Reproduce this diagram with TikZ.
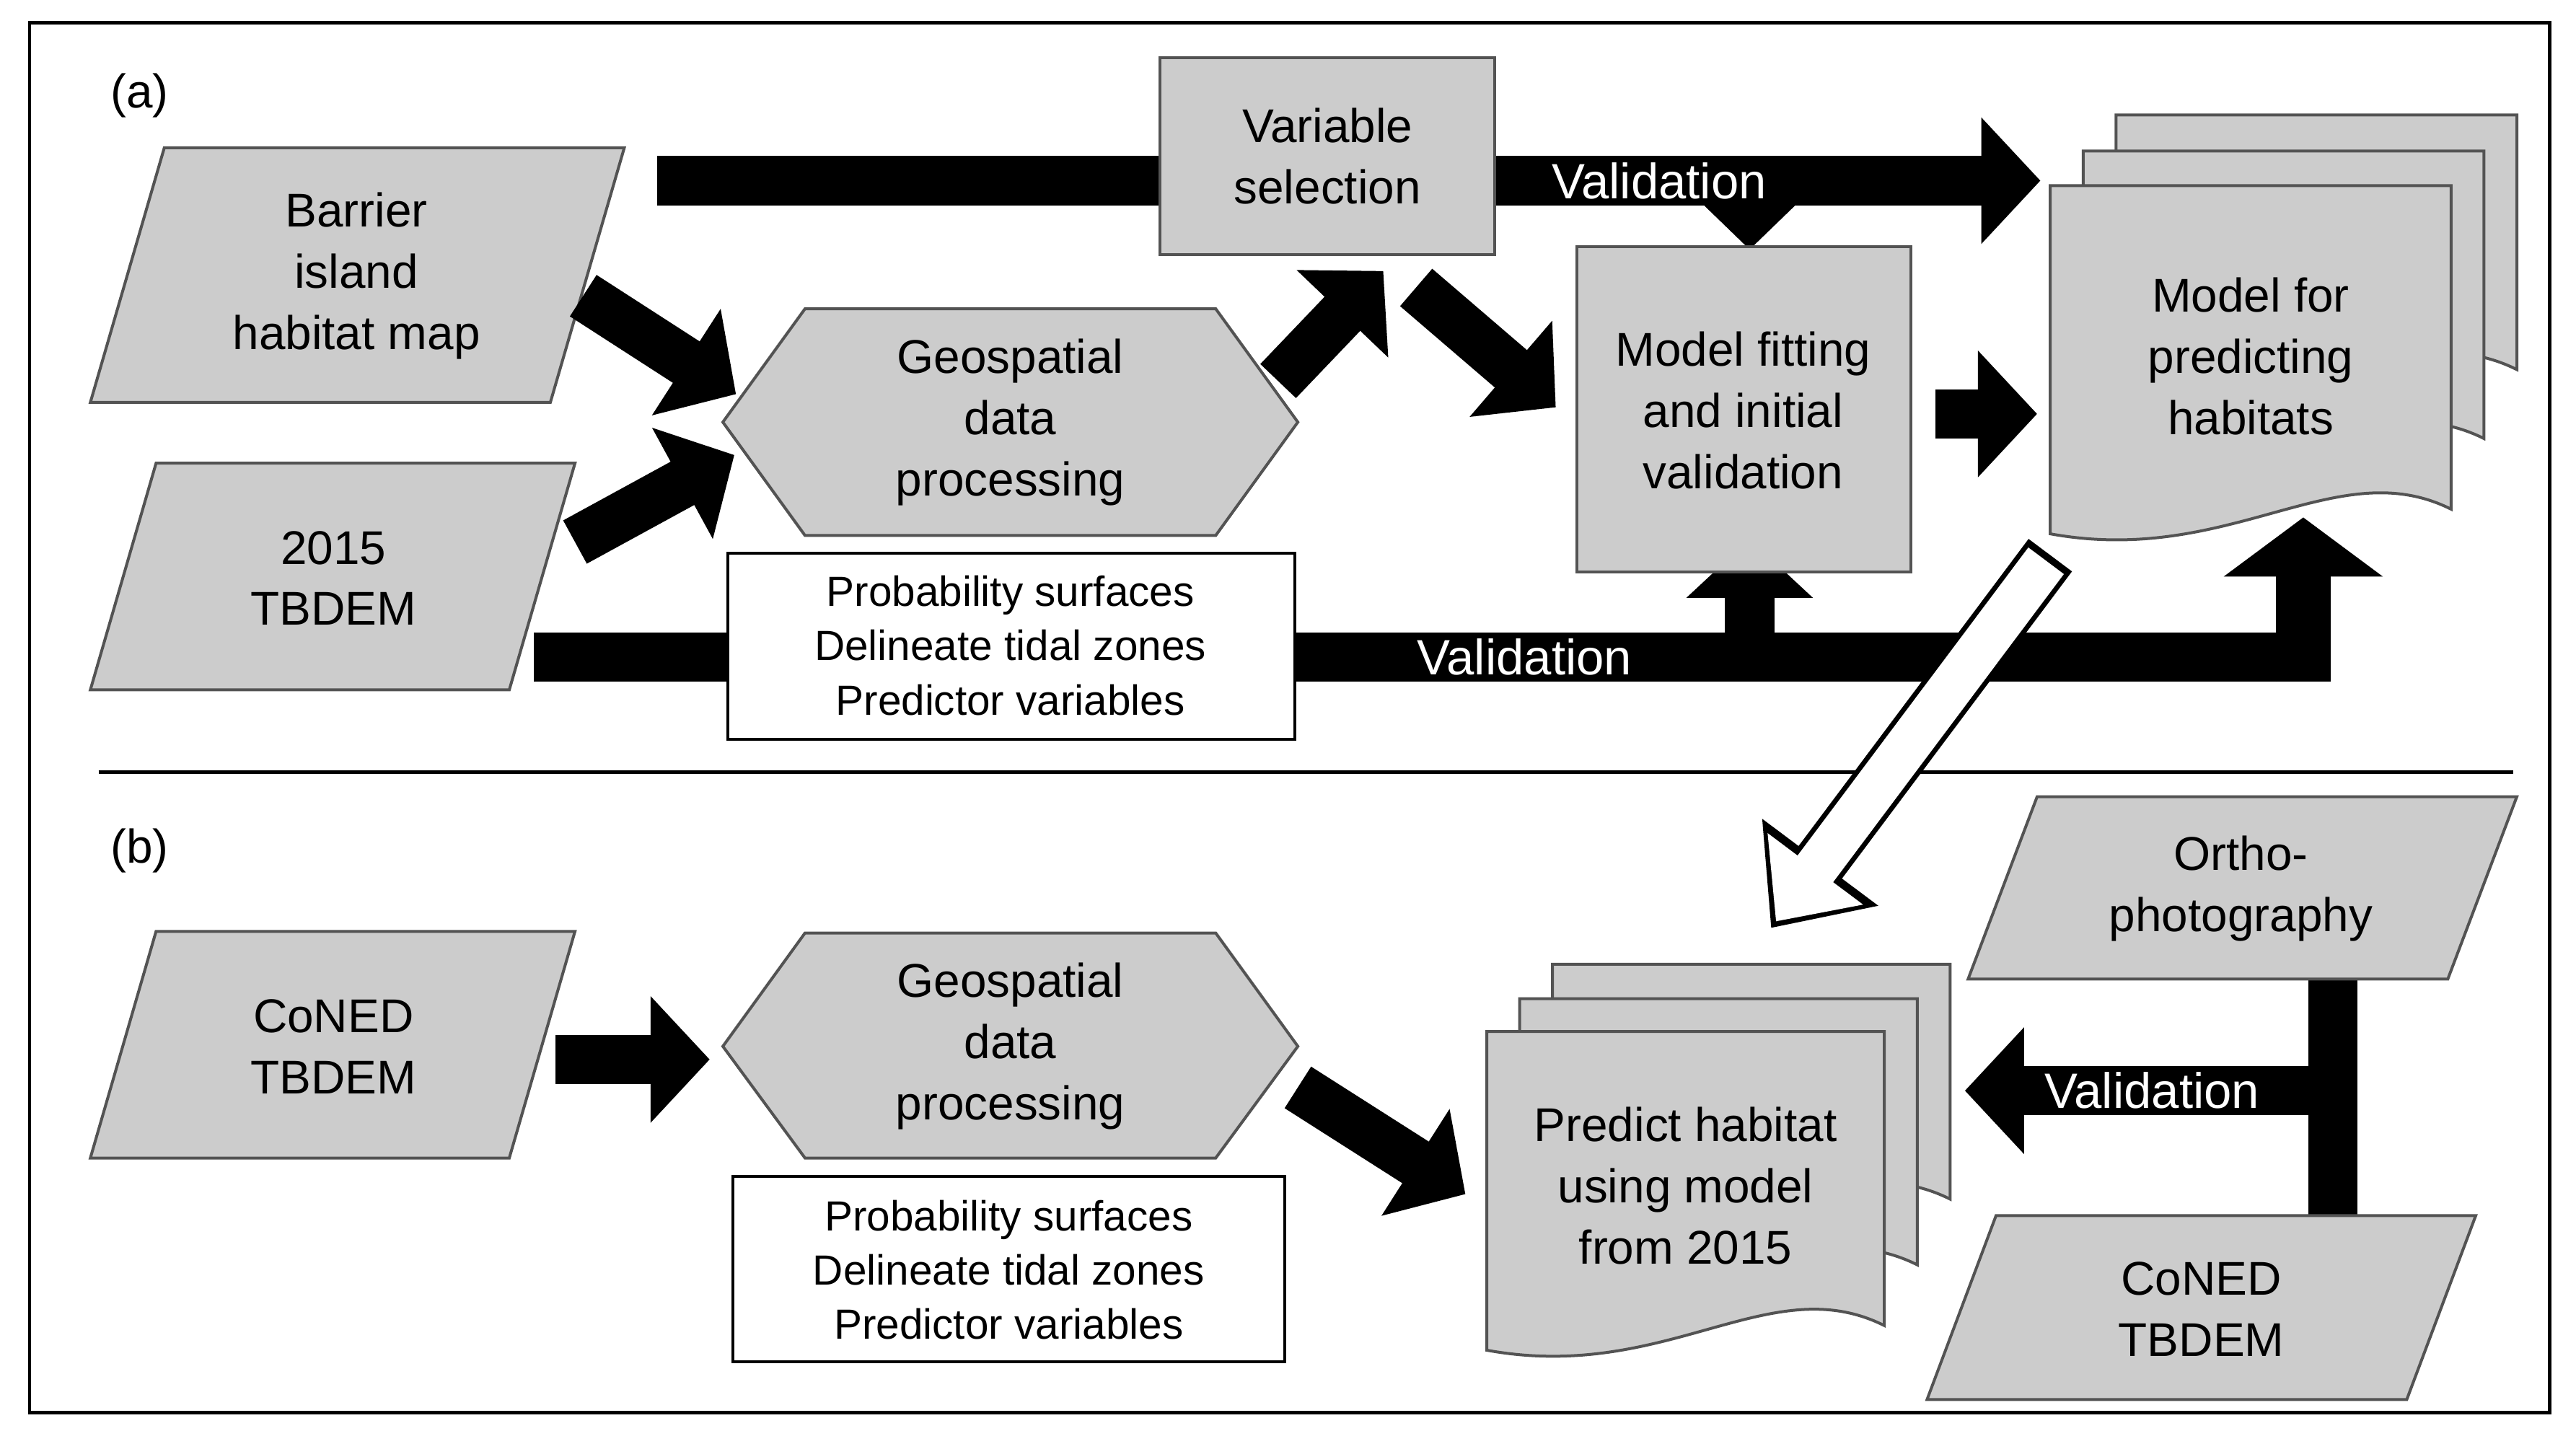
\documentclass[tikz,border=0pt]{standalone}
\usepackage{fontspec}
\setmainfont{Liberation Sans}
\usetikzlibrary{arrows.meta,calc}
\tikzset{
 sh/.style={fill=gray!40,draw=gray!65!black,line width=0.5pt},
 lbl/.style={align=center,font=\fontsize{8.2}{10.6}\selectfont},
 sm/.style={align=center,font=\fontsize{7.3}{9.4}\selectfont},
 blk/.style={line width=0.3cm,black,-{Triangle[length=0.36cm,width=0.75cm]}},
 vt/.style={text=white,font=\fontsize{8.6}{10}\selectfont},
}
\newcommand\docpg[4]{\path[sh] (#1,#2) -- (#3,#2) -- (#3,#4-15) .. controls (#3-70,#4-50) and (#1+110,#4+20) .. (#1,#4) -- cycle;}
\newcommand\para[6]{\path[sh] (#1,#5) -- (#2,#5) -- (#4,#6) -- (#3,#6) -- cycle;}
\begin{document}
\begin{tikzpicture}[x=0.01cm,y=-0.01cm]
\useasboundingbox (0,0) rectangle (1568,871);
\draw[line width=0.6pt] (18,14) rectangle (1552,860);
\draw[line width=0.6pt] (60,470) -- (1530,470);
\node[lbl] (la) at (85,58) {(a)};
\node[lbl] (lb) at (85,518) {(b)};
% (a) arrows behind
\coordinate (t1) at (400,110); \coordinate (t2) at (1242,110);
\draw[blk] (t1) -- (t2);
\coordinate (v1) at (325,400); \coordinate (v2) at (1402,400);
\draw[line width=0.3cm] (v1) -- (v2);
\coordinate (u1) at (1065,392); \coordinate (u2) at (1065,328);
\draw[blk] (u1) -- (u2);
\coordinate (w1) at (1402,415); \coordinate (w2) at (1402,315);
\draw[line width=0.33cm,-{Triangle[length=0.36cm,width=0.95cm]}] (w1) -- (w2);
% shapes
\para{100}{380}{55}{335}{90}{245}
\node[lbl] (bar) at (217,168) {Barrier\\island\\habitat map};
\para{95}{350}{55}{310}{282}{420}
\node[lbl] (tb) at (203,352) {2015\\TBDEM};
\path[sh] (440,257) -- (490,188) -- (740,188) -- (790,257) -- (740,326) -- (490,326) -- cycle;
\node[lbl] (geo) at (615,257) {Geospatial\\data\\processing};
\path[fill=white,draw=black,line width=0.5pt] (443,337) rectangle (788,450);
\node[sm] (box) at (615,393) {Probability surfaces\\Delineate tidal zones\\Predictor variables};
\path[sh] (706,35) rectangle (910,155);
\node[lbl] (vs) at (808,95) {Variable\\selection};
\node[vt] (val1) at (1010,110) {Validation};
\coordinate (d1) at (1065,122); \coordinate (d2) at (1065,152);
\draw[line width=0.3cm,-{Triangle[length=0.3cm,width=0.6cm]}] (d1) -- (d2);
\path[sh] (960,150) rectangle (1163,348);
\node[lbl] (mf) at (1061,250) {Model fitting\\and initial\\validation};
\node[vt] (val2) at (928,400) {Validation};
\docpg{1288}{70}{1532}{240}
\docpg{1268}{92}{1512}{282}
\docpg{1248}{113}{1492}{325}
\node[lbl] (mp) at (1370,217) {Model for\\predicting\\habitats};
\coordinate (a1) at (355,180); \coordinate (a2) at (448,240);
\draw[blk] (a1) -- (a2);
\coordinate (b1) at (350,330); \coordinate (b2) at (447,277);
\draw[blk] (b1) -- (b2);
\coordinate (c1) at (778,232); \coordinate (c2) at (842,165);
\draw[blk] (c1) -- (c2);
\coordinate (e1) at (862,175); \coordinate (e2) at (947,248);
\draw[blk] (e1) -- (e2);
\coordinate (f1) at (1178,252); \coordinate (f2) at (1240,252);
\draw[blk] (f1) -- (f2);
% white arrow
\coordinate (g1) at (1248,338); \coordinate (g2) at (1078,565);
\draw[line width=0.33cm,black,-{Triangle[length=0.5cm,width=0.85cm]}] (g1) -- (g2);
\draw[line width=0.27cm,white,shorten >=0.05cm,-{Triangle[length=0.4cm,width=0.7cm]}] ($(g1)!0.015!(g2)$) -- (g2);
% (b)
\para{95}{350}{55}{310}{567}{705}
\node[lbl] (cn) at (203,637) {CoNED\\TBDEM};
\coordinate (h1) at (338,645); \coordinate (h2) at (432,645);
\draw[blk] (h1) -- (h2);
\path[sh] (440,637) -- (490,568) -- (740,568) -- (790,637) -- (740,705) -- (490,705) -- cycle;
\node[lbl] (geo2) at (615,637) {Geospatial\\data\\processing};
\path[fill=white,draw=black,line width=0.5pt] (446,716) rectangle (782,829);
\node[sm] (box2) at (614,773) {Probability surfaces\\Delineate tidal zones\\Predictor variables};
\coordinate (i1) at (790,662); \coordinate (i2) at (892,727);
\draw[blk] (i1) -- (i2);
\docpg{945}{587}{1187}{745}
\docpg{925}{608}{1167}{785}
\docpg{905}{628}{1147}{822}
\node[lbl] (ph) at (1026,722) {Predict habitat\\using model\\from 2015};
\coordinate (j1) at (1420,590); \coordinate (j2) at (1420,745);
\draw[line width=0.3cm] (j1) -- (j2);
\coordinate (k1) at (1420,664); \coordinate (k2) at (1196,664);
\draw[blk] (k1) -- (k2);
\node[vt] (val3) at (1310,664) {Validation};
\para{1240}{1532}{1198}{1490}{485}{596}
\node[lbl] (or) at (1364,541) {Ortho-\\photography};
\para{1215}{1507}{1173}{1465}{740}{852}
\node[lbl] (cn2) at (1340,797) {CoNED\\TBDEM};
\end{tikzpicture}
\end{document}
